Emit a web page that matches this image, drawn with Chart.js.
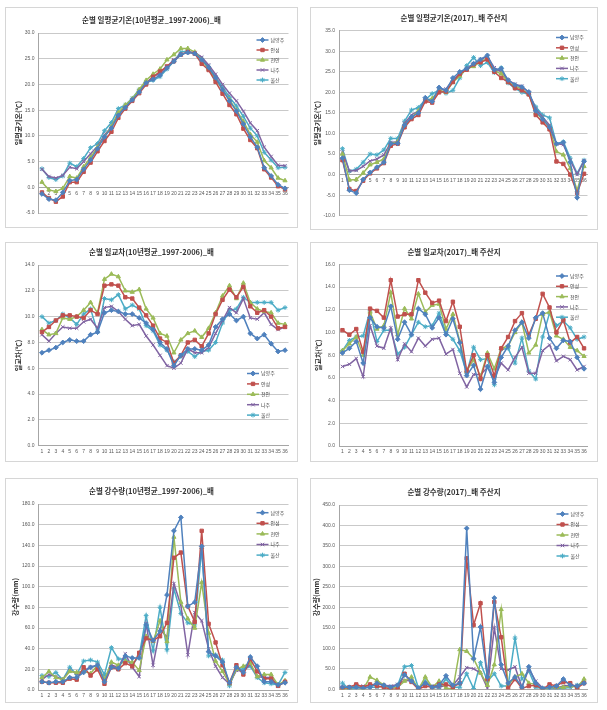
<!DOCTYPE html>
<html>
<head>
<meta charset="utf-8">
<script src="https://cdn.jsdelivr.net/npm/chart.js@4.4.1/dist/chart.umd.min.js"></script>
<style>
  body { margin: 0; background: #fff; width: 607px; height: 710px; position: relative; overflow: hidden; }
  .frame { position: absolute; border: 1px solid #d6d6d6; box-sizing: border-box; }
  canvas { position: absolute; }
</style>
</head>
<body>
<script>
// 순 (10일 단위) 1~36
const periods = ['1','2','3','4','5','6','7','8','9','10','11','12','13','14','15','16','17','18',
  '19','20','21','22','23','24','25','26','27','28','29','30','31','32','33','34','35','36'];
const regions = ['남양주', '안성', '천안', '나주', '울산'];

// 순별 일평균기온 (10년평균_1997-2006)
const avgTemp10Nam = [-1.3,-2.3,-2.5,-1.0,1.3,1.5,3.5,5.3,7.5,9.8,11.5,14.0,15.5,17.0,18.5,20.3,21.0,21.8,23.2,24.5,25.8,26.2,26.0,24.8,23.3,21.3,19.0,16.8,14.8,12.3,9.8,7.8,3.8,2.2,0.5,-0.2];
const avgTemp10Ans = [-1.0,-2.1,-2.8,-1.8,1.0,1.0,3.0,4.8,7.0,9.0,10.8,13.5,15.3,16.8,18.3,20.0,21.5,22.5,23.5,24.5,25.8,26.3,26.0,24.0,22.8,20.5,18.2,16.0,14.2,11.4,9.2,7.6,3.5,1.9,0.2,-0.4];
const avgTemp10Che = [1.0,-0.5,-0.8,-0.2,2.1,1.8,4.0,5.8,7.8,9.8,11.8,14.5,16.0,17.2,19.0,20.8,22.0,23.0,24.8,25.8,27.0,27.0,26.3,24.8,23.0,21.0,19.0,17.0,15.0,12.8,10.3,8.8,5.2,3.8,1.8,1.3];
const avgTemp10Naj = [3.5,2.1,1.8,2.3,3.9,3.6,5.0,6.5,8.0,10.2,11.7,14.5,15.5,17.0,18.8,20.3,21.5,22.2,23.5,24.8,25.8,26.3,26.2,25.3,23.8,22.0,20.0,18.3,16.8,14.8,12.5,11.0,7.8,6.0,4.3,4.2];
const avgTemp10Uls = [3.6,1.9,1.5,2.2,4.7,4.0,5.6,7.7,8.5,11.0,12.6,15.3,16.0,17.3,19.0,20.4,20.8,21.5,23.0,24.5,26.3,26.5,26.0,25.0,23.5,21.5,19.5,17.5,15.8,13.8,11.5,10.0,6.8,5.3,3.8,3.9];

// 순별 일평균기온 (2017)
const avgTemp17Nam = [4.0,-3.8,-4.5,-1.2,0.5,1.8,3.0,7.5,7.6,12.0,14.0,15.0,18.7,17.8,21.2,20.5,23.5,25.0,25.8,27.0,28.0,29.0,25.5,25.8,23.0,21.8,21.3,20.1,15.5,13.5,11.5,7.5,7.8,3.0,-5.6,3.2];
const avgTemp17Ans = [3.5,-3.5,-4.0,-1.5,0.3,1.5,2.8,7.0,7.5,11.5,13.5,14.5,17.8,17.5,20.0,20.2,22.5,24.5,25.5,26.8,27.3,28.0,25.0,23.5,22.5,21.0,20.5,19.5,14.5,12.7,11.0,3.2,2.6,0.0,-4.5,0.2];
const avgTemp17Che = [5.0,-1.3,-1.2,0.4,2.4,3.0,3.8,7.5,8.0,12.0,13.8,15.5,18.0,18.5,20.5,20.0,22.5,24.0,25.8,26.3,27.5,28.2,25.3,24.5,22.5,21.5,20.8,19.5,15.0,13.5,11.5,5.6,4.8,1.5,-3.8,2.0];
const avgTemp17Naj = [5.5,0.9,1.0,2.0,3.3,3.8,4.8,7.8,8.0,12.5,14.5,15.5,18.0,18.0,20.5,20.8,23.0,24.5,25.8,27.0,28.0,28.7,26.0,25.0,23.0,22.0,21.5,20.0,16.0,14.0,12.0,7.5,7.3,3.5,0.0,3.3];
const avgTemp17Uls = [6.3,0.8,1.3,3.0,5.0,4.8,6.0,8.8,8.8,13.0,15.7,16.3,18.2,19.7,20.5,19.8,20.5,23.5,26.5,28.5,26.5,27.3,24.8,26.0,22.3,21.0,20.0,19.5,16.5,14.5,13.8,7.5,8.0,4.0,0.3,3.5];

// 순별 일교차 (10년평균_1997-2006)
const dtr10Nam = [7.2,7.4,7.6,8.0,8.2,8.1,8.1,8.6,8.8,10.3,10.5,10.4,10.2,10.2,9.9,9.5,9.0,8.0,7.5,6.2,7.0,7.5,7.5,7.4,7.8,9.2,9.8,10.2,9.7,10.0,8.7,8.3,8.6,7.9,7.3,7.4];
const dtr10Ans = [8.8,9.2,9.7,10.1,10.1,10.0,9.9,10.5,10.2,12.4,12.5,12.4,11.5,11.4,10.7,10.1,9.3,8.3,8.0,6.4,7.0,8.0,8.2,7.7,8.7,10.2,11.3,12.1,11.5,12.3,10.8,10.3,10.5,10.0,9.1,9.2];
const dtr10Che = [9.0,8.6,8.7,9.9,9.8,10.0,10.5,11.1,10.3,12.9,13.3,13.1,12.0,11.9,12.1,10.6,9.9,8.7,8.5,7.2,8.2,8.7,8.9,8.4,9.1,10.3,11.6,12.4,11.4,12.6,11.1,10.6,10.4,10.3,9.5,9.4];
const dtr10Naj = [8.6,8.1,8.7,9.2,9.1,9.1,9.6,9.8,9.1,10.7,10.8,10.4,9.8,9.3,9.4,8.5,7.8,7.0,6.2,6.0,6.4,7.5,7.2,7.2,7.6,8.7,9.7,10.7,10.3,11.4,9.9,9.8,10.3,9.4,9.0,9.2];
const dtr10Uls = [10.0,9.5,9.7,10.2,9.9,9.4,10.2,10.6,8.8,11.4,11.3,11.7,10.6,10.9,10.6,9.3,8.9,7.8,7.4,6.5,6.9,7.3,6.9,7.3,7.4,8.0,9.5,10.5,10.6,11.5,11.1,11.1,11.1,11.1,10.5,10.7];

// 순별 일교차 (2017)
const dtr17Nam = [8.2,8.6,9.2,7.3,11.3,10.5,10.4,12.3,9.4,10.9,9.8,12.1,11.6,10.4,11.3,9.8,11.2,9.1,6.2,7.1,5.0,7.0,5.6,7.8,8.8,10.2,10.9,9.5,11.3,11.7,9.5,8.6,9.3,9.2,7.8,6.8];
const dtr17Ans = [10.2,9.8,10.3,8.3,12.1,11.9,11.3,14.6,11.4,11.6,11.6,14.6,13.5,12.6,12.8,11.0,12.7,10.5,6.6,8.0,5.9,8.0,6.2,8.6,9.6,11.0,11.7,9.8,11.2,13.4,12.2,10.0,11.1,9.1,9.6,8.6];
const dtr17Che = [8.4,9.0,9.6,8.0,11.8,10.3,10.6,13.5,9.8,12.1,11.2,13.4,11.8,12.4,12.5,10.3,11.6,9.2,6.6,7.6,6.1,8.2,6.8,8.6,8.8,10.0,10.9,8.2,8.9,11.6,11.8,9.7,9.4,8.7,8.4,7.9];
const dtr17Naj = [7.0,7.2,7.7,6.1,10.6,8.8,8.6,10.4,7.6,9.0,8.3,9.5,8.8,9.4,9.5,8.1,8.5,6.4,5.2,6.3,6.3,6.9,6.0,7.3,6.7,7.8,8.7,6.4,6.4,8.4,8.9,7.5,7.9,7.6,6.7,7.0];
const dtr17Uls = [8.4,9.3,9.6,9.7,11.9,9.2,10.2,10.2,8.1,8.7,9.8,10.9,10.5,10.6,11.7,10.0,9.4,8.4,6.4,8.7,7.6,7.7,5.4,8.5,8.6,7.3,9.5,6.6,5.9,9.6,11.7,10.6,11.0,10.4,9.4,9.6];

// 순별 강수량 (10년평균_1997-2006)
const rain10Nam = [8,7,8,8,12,12,17,22,24,8,22,21,33,31,31,63,48,57,92,154,167,81,85,139,37,33,27,7,22,17,32,23,8,8,5,7];
const rain10Ans = [8,7,7,7,11,10,22,14,20,6,22,20,26,23,36,50,48,52,65,128,133,81,66,154,64,46,24,7,24,15,30,18,11,11,4,8];
const rain10Che = [12,18,12,10,18,17,18,16,24,10,27,24,28,27,19,52,47,67,47,148,85,69,60,104,55,28,18,6,20,23,26,13,15,15,5,9];
const rain10Naj = [10,15,13,10,19,16,19,22,24,10,24,22,35,22,13,64,24,59,51,103,82,34,75,67,40,23,12,6,19,18,25,13,12,12,4,8];
const rain10Uls = [14,13,17,10,22,15,28,29,27,15,41,30,30,24,33,72,38,80,39,98,74,65,63,137,33,34,29,4,21,20,23,12,7,6,5,17];

// 순별 강수량 (2017)
const rain17Nam = [5,5,5,3,5,15,10,5,10,35,20,3,15,5,10,33,10,15,393,75,152,30,223,60,15,30,5,55,15,2,5,8,25,10,8,15];
const rain17Ans = [3,5,12,5,12,8,5,0,0,38,18,0,8,5,12,12,5,15,320,157,210,25,213,127,2,25,2,8,10,0,12,8,18,15,3,15];
const rain17Che = [0,3,8,0,30,22,10,2,5,20,30,0,30,5,20,3,0,97,93,75,40,10,60,195,10,30,38,15,12,0,5,5,5,8,5,25];
const rain17Naj = [5,3,8,8,8,15,10,8,12,22,20,3,15,8,5,10,10,30,53,50,40,3,150,50,47,55,5,50,20,3,5,3,8,10,8,20];
const rain17Uls = [15,0,3,3,5,5,8,5,10,55,58,3,20,5,3,25,5,5,38,2,65,20,38,8,8,125,25,45,5,2,0,2,2,5,10,15];

const seriesColors = ['#4F81BD', '#C0504D', '#9BBB59', '#8064A2', '#4BACC6'];
const seriesMarkers = ['rectRot', 'rect', 'triangle', 'crossRot', 'star'];

// 제목, 범례 그리기
const overlay = {
  id: 'overlay',
  afterDraw(chart, args, o) {
    const ctx = chart.ctx;
    ctx.save();
    ctx.font = 'bold 7.5px "Noto Sans CJK KR"';
    ctx.fillStyle = '#333333';
    ctx.textAlign = 'center';
    ctx.textBaseline = 'middle';
    ctx.fillText(o.title, chart.width / 2, o.titleY);

    chart.data.datasets.forEach((ds, i) => {
      const y = o.legendY + i * o.legendGap;
      const x = o.legendX;
      ctx.strokeStyle = ds.borderColor;
      ctx.lineWidth = 1.5;
      ctx.beginPath();
      ctx.moveTo(x, y);
      ctx.lineTo(x + 12, y);
      ctx.stroke();
      ctx.fillStyle = ds.borderColor;
      ctx.lineWidth = 1;
      if (Chart.helpers && Chart.helpers.drawPoint) {
        Chart.helpers.drawPoint(ctx, { pointStyle: ds.pointStyle, radius: 2.4, rotation: 0, borderWidth: 1 }, x + 6, y);
      }
      ctx.fillStyle = '#404040';
      ctx.font = '5px "Noto Sans CJK KR"';
      ctx.textAlign = 'left';
      ctx.fillText(ds.label, x + 14, y);
    });
    ctx.restore();
  }
};

function makeChart(p) {
  const frame = document.createElement('div');
  frame.className = 'frame';
  Object.assign(frame.style, { left: p.fx + 'px', top: p.fy + 'px', width: p.fw + 'px', height: p.fh + 'px' });
  document.body.appendChild(frame);

  const canvas = document.createElement('canvas');
  canvas.width = p.fw;
  canvas.height = p.fh;
  Object.assign(canvas.style, { left: p.fx + 'px', top: p.fy + 'px' });
  document.body.appendChild(canvas);

  const datasets = p.series.map((data, i) => ({
    label: regions[i],
    data: data,
    borderColor: seriesColors[i],
    backgroundColor: seriesColors[i],
    pointBackgroundColor: seriesColors[i],
    pointBorderColor: seriesColors[i],
    pointStyle: seriesMarkers[i],
    pointRadius: 2.4,
    pointBorderWidth: 1,
    borderWidth: 1.5,
    tension: 0
  }));

  return new Chart(canvas, {
    type: 'line',
    data: { labels: periods, datasets },
    options: {
      responsive: false,
      animation: false,
      devicePixelRatio: 1,
      layout: {
        padding: {
          left: 0,
          top: p.area.t - p.fy,
          right: p.fx + p.fw - p.area.r,
          bottom: p.fy + p.fh - p.area.b
        }
      },
      plugins: {
        legend: { display: false },
        tooltip: { enabled: false },
        overlay: {
          title: p.title,
          titleY: p.titleY - p.fy,
          legendX: p.legend.x - p.fx,
          legendY: p.legend.y - p.fy,
          legendGap: p.legend.gap
        }
      },
      scales: {
        x: {
          type: 'category',
          offset: true,
          position: { y: p.xAt },
          grid: { display: true, drawOnChartArea: false, drawTicks: false },
          border: { display: true, color: '#a6a6a6', width: 1 },
          ticks: {
            autoSkip: false, maxRotation: 0, minRotation: 0, padding: 3,
            color: '#595959', font: { family: '"Liberation Sans"', size: 5 }
          }
        },
        y: {
          min: p.y.min, max: p.y.max,
          afterFit: s => { s.width = p.area.l - p.fx; },
          grid: { color: '#c9c9c9', drawTicks: false },
          border: { display: true, color: '#a6a6a6', width: 1 },
          ticks: {
            stepSize: p.y.step, padding: 4,
            color: '#595959', font: { family: '"Liberation Sans"', size: 5 },
            callback: v => Number(v).toFixed(1)
          },
          title: {
            display: true, text: p.yTitle, color: '#333333',
            font: { family: '"Noto Sans CJK KR"', size: 7, weight: 'bold' },
            padding: { top: p.yTitleX - 4.2, bottom: 0 }
          }
        }
      }
    },
    plugins: [overlay]
  });
}

makeChart({
  fx: 5, fy: 7, fw: 293, fh: 221,
  area: { l: 38.5, t: 33, r: 288.5, b: 213 },
  y: { min: -5, max: 30, step: 5 }, xAt: 0,
  title: '순별 일평균기온(10년평균_1997-2006)_배', titleY: 20,
  yTitle: '일평균기온(℃)', yTitleX: 13,
  legend: { x: 256.5, y: 40, gap: 10 },
  series: [avgTemp10Nam, avgTemp10Ans, avgTemp10Che, avgTemp10Naj, avgTemp10Uls]
});

makeChart({
  fx: 310, fy: 7, fw: 288, fh: 223,
  area: { l: 339, t: 30.7, r: 587.5, b: 215.7 },
  y: { min: -10, max: 35, step: 5 }, xAt: 0,
  title: '순별 일평균기온(2017)_배 주산지', titleY: 18.5,
  yTitle: '일평균기온(℃)', yTitleX: 7.7,
  legend: { x: 556, y: 37.5, gap: 10.3 },
  series: [avgTemp17Nam, avgTemp17Ans, avgTemp17Che, avgTemp17Naj, avgTemp17Uls]
});

makeChart({
  fx: 5, fy: 242, fw: 293, fh: 220,
  area: { l: 38.5, t: 265, r: 288.5, b: 445.7 },
  y: { min: 0, max: 14, step: 2 }, xAt: 0,
  title: '순별 일교차(10년평균_1997-2006)_배', titleY: 251.7,
  yTitle: '일교차(℃)', yTitleX: 13.3,
  legend: { x: 247, y: 373.5, gap: 10.4 },
  series: [dtr10Nam, dtr10Ans, dtr10Che, dtr10Naj, dtr10Uls]
});

makeChart({
  fx: 310, fy: 242, fw: 288, fh: 220,
  area: { l: 339, t: 264.3, r: 587.5, b: 446 },
  y: { min: 0, max: 16, step: 2 }, xAt: 0,
  title: '순별 일교차(2017)_배 주산지', titleY: 251.7,
  yTitle: '일교차(℃)', yTitleX: 8.3,
  legend: { x: 556, y: 276, gap: 10.3 },
  series: [dtr17Nam, dtr17Ans, dtr17Che, dtr17Naj, dtr17Uls]
});

makeChart({
  fx: 5, fy: 478, fw: 293, fh: 225,
  area: { l: 38.5, t: 504, r: 288.5, b: 690 },
  y: { min: 0, max: 180, step: 20 }, xAt: 0,
  title: '순별 강수량(10년평균_1997-2006)_배', titleY: 490.7,
  yTitle: '강수량(mm)', yTitleX: 10,
  legend: { x: 256.5, y: 512.7, gap: 10.6 },
  series: [rain10Nam, rain10Ans, rain10Che, rain10Naj, rain10Uls]
});

makeChart({
  fx: 310, fy: 478, fw: 288, fh: 225,
  area: { l: 339, t: 505, r: 587.5, b: 689.3 },
  y: { min: 0, max: 450, step: 50 }, xAt: 0,
  title: '순별 강수량(2017)_배 주산지', titleY: 491.7,
  yTitle: '강수량(mm)', yTitleX: 6.7,
  legend: { x: 556.5, y: 514, gap: 10.5 },
  series: [rain17Nam, rain17Ans, rain17Che, rain17Naj, rain17Uls]
});
</script>
</body>
</html>
